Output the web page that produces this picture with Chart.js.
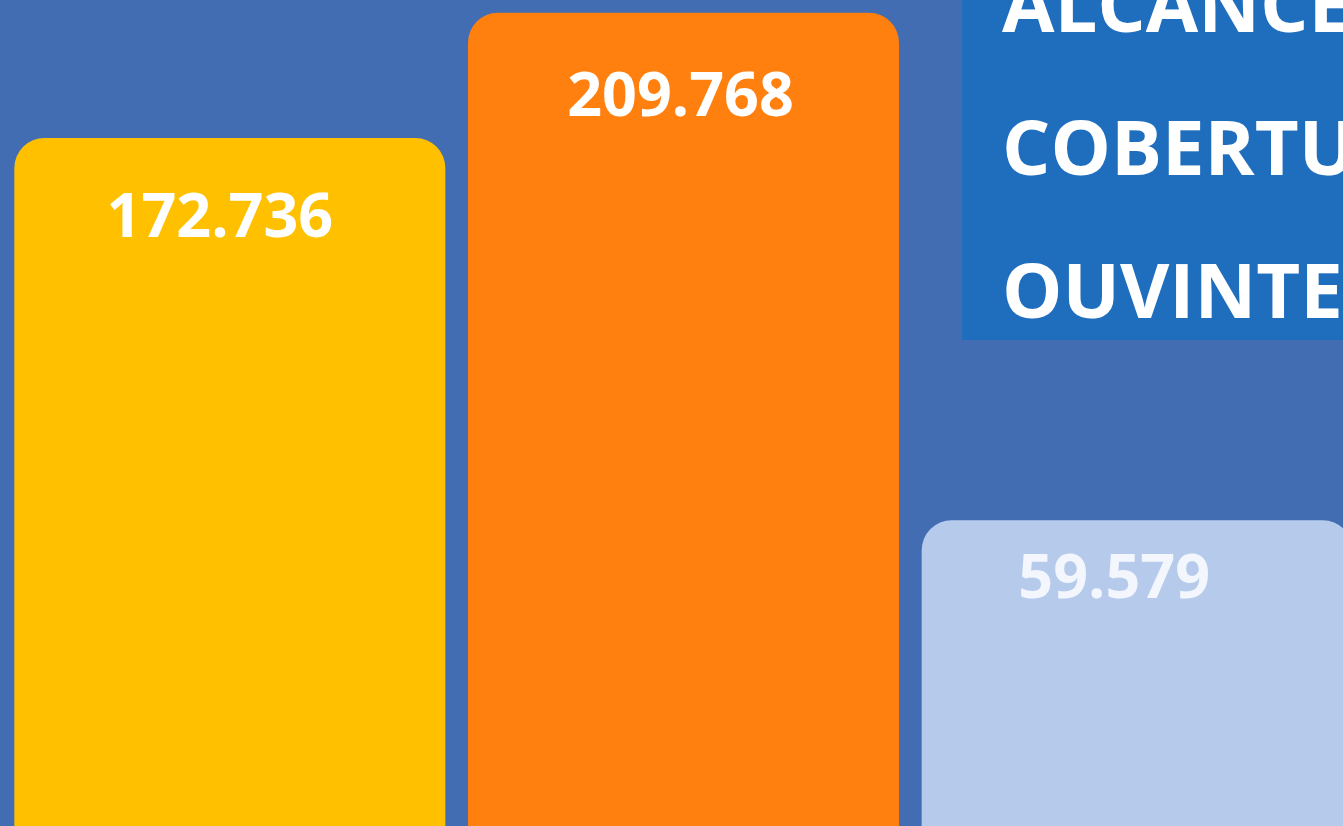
<!DOCTYPE html>
<html>
<head>
<meta charset="utf-8">
<script src="https://cdn.jsdelivr.net/npm/chart.js@4.4.1/dist/chart.umd.min.js"></script>
<style>
  html, body { margin: 0; padding: 0; width: 1343px; height: 826px; overflow: hidden; background: #436db2; }
  #wrap { position: absolute; left: 3px; top: 0; width: 1361px; height: 826px; }
  #titulo {
    position: absolute; left: 962px; top: 0; width: 420px; height: 340px;
    background: #1f6ebe; overflow: hidden;
  }
  #titulo div {
    position: absolute; left: 40px; top: -69px;
    font-family: "Open Sans", sans-serif; font-weight: 700; font-size: 76px;
    line-height: 143px; color: #ffffff; white-space: nowrap;
  }
</style>
</head>
<body>
<div id="wrap"><canvas id="graficoAlcance"></canvas></div>
<div id="titulo"><div>ALCANCE<br>COBERTURA<br>OUVINTES</div></div>
<script>
const categorias = ["Categoria 1", "Categoria 2", "Categoria 3"];
const valores = [172736, 209768, 59579];
const cores = ["#ffc000", "#ff800f", "#b6cbec"];
const coresRotulo = ["#ffffff", "#ffffff", "#f3f6fc"];

const formato = new Intl.NumberFormat("pt-BR");

// desenha o valor dentro do topo de cada barra
// (no original os rótulos não ficam exatamente centrados)
const ajusteX = [-10, -3, -23];
const ajusteY = [99, 103, 78];

const rotulosBarras = {
  id: "rotulosBarras",
  afterDatasetsDraw(chart) {
    const { ctx } = chart;
    const meta = chart.getDatasetMeta(0);
    ctx.save();
    ctx.font = "700 61px 'Open Sans', sans-serif";
    ctx.textAlign = "center";
    ctx.textBaseline = "alphabetic";
    meta.data.forEach((barra, i) => {
      ctx.fillStyle = coresRotulo[i];
      ctx.fillText(formato.format(valores[i]), barra.x + ajusteX[i], barra.y + ajusteY[i]);
    });
    ctx.restore();
  },
};

const graficoAlcance = new Chart(document.getElementById("graficoAlcance"), {
  type: "bar",
  data: {
    labels: categorias,
    datasets: [
      {
        data: valores,
        backgroundColor: cores,
        borderRadius: 30,
        borderSkipped: "start",
        base: -30900,
        barPercentage: 0.95,
        categoryPercentage: 1,
      },
    ],
  },
  options: {
    responsive: true,
    maintainAspectRatio: false,
    animation: false,
    layout: { padding: 0 },
    plugins: {
      legend: { display: false },
      tooltip: { enabled: false },
    },
    scales: {
      x: { display: false, grid: { display: false } },
      y: { display: false, min: -30900, max: 213560, grid: { display: false } },
    },
  },
  plugins: [rotulosBarras],
});
</script>
</body>
</html>
